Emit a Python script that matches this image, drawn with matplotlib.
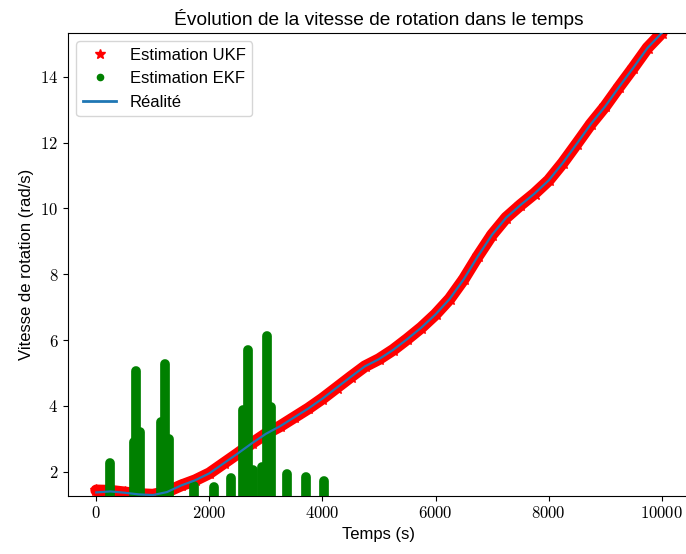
import matplotlib
matplotlib.use('Agg')
import matplotlib.pyplot as plt
from matplotlib.lines import Line2D
from matplotlib.ticker import FormatStrFormatter

# temps (s) et vitesse de rotation (rad/s)
temps = [0, 250, 500, 750, 1000, 1250, 1500, 1750, 2000, 2250, 2500,
         2750, 3000, 3250, 3500, 3750, 4000, 4250, 4500, 4750, 5000,
         5250, 5500, 5750, 6000, 6250, 6500, 6750, 7000, 7250, 7500,
         7750, 8000, 8250, 8500, 8750, 9000, 9250, 9500, 9750, 10000]
realite = [1.37, 1.40, 1.36, 1.31, 1.29, 1.38, 1.58, 1.74, 1.95, 2.25, 2.55,
           2.86, 3.15, 3.38, 3.65, 3.92, 4.22, 4.55, 4.88, 5.20, 5.42,
           5.70, 6.03, 6.38, 6.78, 7.25, 7.85, 8.55, 9.20, 9.72, 10.10,
           10.45, 10.85, 11.38, 11.97, 12.57, 13.10, 13.70, 14.28, 14.88, 15.33]
ukf = [1.43, 1.42, 1.37, 1.32, 1.30, 1.39, 1.58, 1.74, 1.95, 2.25, 2.55,
       2.86, 3.15, 3.38, 3.65, 3.92, 4.22, 4.55, 4.88, 5.20, 5.42,
       5.70, 6.03, 6.38, 6.78, 7.25, 7.85, 8.55, 9.20, 9.72, 10.10,
       10.45, 10.85, 11.38, 11.97, 12.57, 13.10, 13.70, 14.28, 14.88, 15.33]

# EKF : colonnes de points (instant, valeur max visible)
ekfT = [250, 700, 1210, 1720, 2075, 2380, 2690, 3020, 3370, 3710, 4030,
        660, 780, 1150, 1290, 2600, 2775, 2930, 3085]
ekfMax = [2.27, 5.06, 5.27, 1.55, 1.53, 1.81, 5.71, 6.12, 1.93, 1.85, 1.72,
          2.90, 3.20, 3.50, 3.00, 3.87, 2.05, 2.15, 3.98]

yBas, yHaut = 1.27, 15.33

plt.rcParams['font.family'] = 'Liberation Sans'
plt.rcParams['font.size'] = 12
plt.rcParams['mathtext.fontset'] = 'cm'

fig = plt.figure(figsize=(6.86, 5.54), dpi=100)
ax = fig.add_axes([68/686, 1 - 495.7/554, 622/686, 462.7/554])

ax.plot(temps, ukf, color='red', lw=8.5, solid_capstyle='round', zorder=2)
ax.plot(temps, ukf, 'r*', ms=9, zorder=2)
for t, v in zip(ekfT, ekfMax):
  ax.plot([t, t], [yBas - 1, v], color='green', lw=7,
          solid_capstyle='round', zorder=3)
ax.plot(temps, realite, color='#1f77b4', lw=1.6, zorder=4)

ax.set_xlim(-500, 10500)
ax.set_ylim(yBas, yHaut)
ax.set_xticks(range(0, 10001, 2000))
ax.set_yticks(range(2, 15, 2))
ax.xaxis.set_major_formatter(FormatStrFormatter('$%d$'))
ax.yaxis.set_major_formatter(FormatStrFormatter('$%d$'))
ax.tick_params(labelsize=12)

ax.set_title('Évolution de la vitesse de rotation dans le temps', fontsize=13.8)
ax.set_xlabel('Temps (s)')
ax.set_ylabel('Vitesse de rotation (rad/s)')

poignees = [Line2D([], [], ls='', marker='*', color='red', ms=7),
            Line2D([], [], ls='', marker='o', color='green', ms=4.5),
            Line2D([], [], color='#1f77b4', lw=2)]
ax.legend(poignees, ['Estimation UKF', 'Estimation EKF', 'Réalité'],
          loc='upper left')

fig.savefig('out.png', dpi=100)
